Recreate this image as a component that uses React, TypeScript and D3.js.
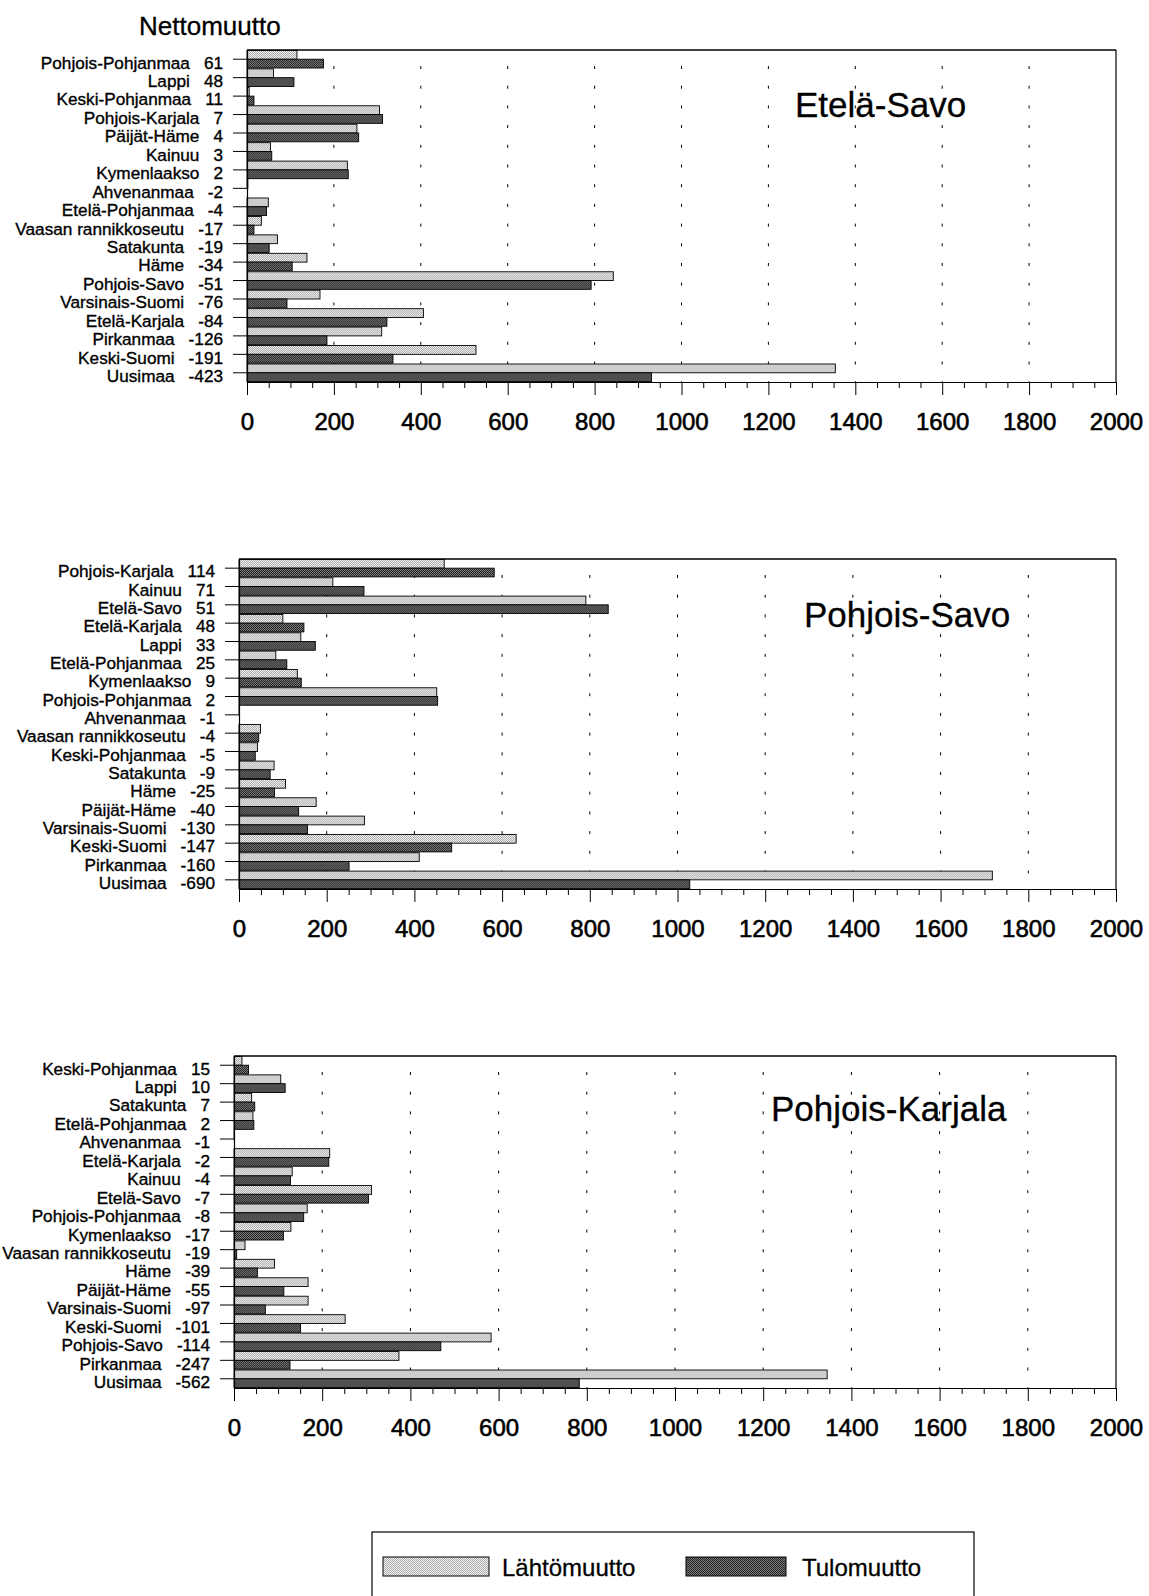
import { useEffect, useRef } from "react";
import * as d3 from "d3";

// Etelä-Savo
const esRegions = ["Pohjois-Pohjanmaa", "Lappi", "Keski-Pohjanmaa", "Pohjois-Karjala", "Päijät-Häme", "Kainuu", "Kymenlaakso", "Ahvenanmaa", "Etelä-Pohjanmaa", "Vaasan rannikkoseutu", "Satakunta", "Häme", "Pohjois-Savo", "Varsinais-Suomi", "Etelä-Karjala", "Pirkanmaa", "Keski-Suomi", "Uusimaa"];
const esNet = [61, 48, 11, 7, 4, 3, 2, -2, -4, -17, -19, -34, -51, -76, -84, -126, -191, -423];
const esLahto = [115, 61, 5, 305, 253, 54, 231, 2, 49, 33, 70, 138, 843, 168, 406, 310, 527, 1354];
const esTulo = [176, 108, 16, 312, 257, 57, 233, 0, 45, 16, 51, 104, 792, 92, 322, 184, 336, 931];

// Pohjois-Savo
const psRegions = ["Pohjois-Karjala", "Kainuu", "Etelä-Savo", "Etelä-Karjala", "Lappi", "Etelä-Pohjanmaa", "Kymenlaakso", "Pohjois-Pohjanmaa", "Ahvenanmaa", "Vaasan rannikkoseutu", "Keski-Pohjanmaa", "Satakunta", "Häme", "Päijät-Häme", "Varsinais-Suomi", "Keski-Suomi", "Pirkanmaa", "Uusimaa"];
const psNet = [114, 71, 51, 48, 33, 25, 9, 2, -1, -4, -5, -9, -25, -40, -130, -147, -160, -690];
const psLahto = [468, 214, 791, 100, 141, 84, 133, 451, 1, 49, 42, 80, 106, 176, 286, 632, 411, 1718];
const psTulo = [582, 285, 842, 148, 174, 109, 142, 453, 0, 45, 37, 71, 81, 136, 156, 485, 251, 1028];

// Pohjois-Karjala
const pkRegions = ["Keski-Pohjanmaa", "Lappi", "Satakunta", "Etelä-Pohjanmaa", "Ahvenanmaa", "Etelä-Karjala", "Kainuu", "Etelä-Savo", "Pohjois-Pohjanmaa", "Kymenlaakso", "Vaasan rannikkoseutu", "Häme", "Päijät-Häme", "Varsinais-Suomi", "Keski-Suomi", "Pohjois-Savo", "Pirkanmaa", "Uusimaa"];
const pkNet = [15, 10, 7, 2, -1, -2, -4, -7, -8, -17, -19, -39, -55, -97, -101, -114, -247, -562];
const pkLahto = [18, 106, 40, 43, 1, 217, 132, 312, 166, 129, 25, 92, 168, 168, 252, 583, 374, 1345];
const pkTulo = [33, 116, 47, 45, 0, 215, 128, 305, 158, 112, 6, 53, 113, 71, 151, 469, 127, 783];

const xTicks = [0, 200, 400, 600, 800, 1000, 1200, 1400, 1600, 1800, 2000];
const seriesNames = ["Lähtömuutto", "Tulomuutto"];
const chartTitle = "Nettomuutto";

const FONT = "'Liberation Sans', Arial, Helvetica, sans-serif";

const panels = [
  { title: "Etelä-Savo", regions: esRegions, net: esNet, lahto: esLahto, tulo: esTulo, left: 247, top: 50, bottom: 382, titleX: 795, titleY: 117 },
  { title: "Pohjois-Savo", regions: psRegions, net: psNet, lahto: psLahto, tulo: psTulo, left: 239, top: 559, bottom: 889, titleX: 804, titleY: 627 },
  { title: "Pohjois-Karjala", regions: pkRegions, net: pkNet, lahto: pkLahto, tulo: pkTulo, left: 234, top: 1056, bottom: 1388, titleX: 771, titleY: 1121 },
];

function App() {
  const ref = useRef<SVGSVGElement>(null);

  useEffect(() => {
    const svg = d3.select(ref.current);
    svg.selectAll("*").remove();

    const defs = svg.append("defs");
    const makePattern = (id: string, bg: string, fg: string) => {
      const p = defs.append("pattern").attr("id", id).attr("patternUnits", "userSpaceOnUse").attr("width", 2).attr("height", 2);
      p.append("rect").attr("width", 2).attr("height", 2).attr("fill", bg);
      p.append("rect").attr("width", 1).attr("height", 1).attr("fill", fg);
      p.append("rect").attr("x", 1).attr("y", 1).attr("width", 1).attr("height", 1).attr("fill", fg);
    };
    makePattern("pat-light", "#f2f2f2", "#aaaaaa");
    makePattern("pat-dark", "#787878", "#262626");
    const fills = ["url(#pat-light)", "url(#pat-dark)"];

    svg.append("text")
      .attr("x", 139).attr("y", 35)
      .attr("font-family", FONT).attr("font-size", 26)
      .attr("stroke", "#000").attr("stroke-width", 0.3)
      .text(chartTitle);

    panels.forEach((p) => {
      const right = 1116;
      const x = d3.scaleLinear().domain([0, 2000]).range([p.left, right]);
      const y = d3.scaleBand().domain(p.regions).range([p.top, p.bottom]);
      const sub = d3.scaleBand().domain(seriesNames).range([0, y.bandwidth()]).paddingOuter(0.05);
      const g = svg.append("g");

      // dotted gridlines
      g.selectAll(".grid")
        .data(xTicks.slice(1, -1))
        .join("line")
        .attr("x1", (d) => x(d)).attr("x2", (d) => x(d))
        .attr("y1", p.top + 16).attr("y2", p.bottom)
        .attr("stroke", "#000").attr("stroke-width", 1)
        .attr("stroke-dasharray", "3 16.7");

      // bars
      const rows = p.regions.map((r, i) => ({ region: r, values: [p.lahto[i], p.tulo[i]] }));
      const rowG = g.selectAll(".row").data(rows).join("g")
        .attr("transform", (d) => `translate(0,${y(d.region)})`);
      rowG.selectAll("rect")
        .data((d) => d.values.map((v, k) => ({ v, k })))
        .join("rect")
        .attr("x", x(0))
        .attr("y", (d) => sub(seriesNames[d.k]) as number)
        .attr("width", (d) => x(d.v) - x(0))
        .attr("height", sub.bandwidth())
        .attr("fill", (d) => fills[d.k])
        .attr("stroke", "#000").attr("stroke-width", 0.9);

      // frame top and right
      g.append("line").attr("x1", p.left).attr("x2", right).attr("y1", p.top).attr("y2", p.top)
        .attr("stroke", "#000").attr("stroke-width", 1.5);
      g.append("line").attr("x1", right).attr("x2", right).attr("y1", p.top).attr("y2", p.bottom)
        .attr("stroke", "#000").attr("stroke-width", 1.2);

      // minor ticks
      const minor = d3.range(0, 2001, 50).filter((v) => v % 200 !== 0);
      g.append("g")
        .attr("transform", `translate(0,${p.bottom})`)
        .call(d3.axisBottom(x).tickValues(minor).tickSize(6).tickSizeOuter(0).tickFormat(() => ""))
        .call((a) => a.select(".domain").remove())
        .selectAll("line").attr("stroke", "#000");

      // x axis
      const xa = g.append("g")
        .attr("transform", `translate(0,${p.bottom})`)
        .call(d3.axisBottom(x).tickValues(xTicks).tickSize(13).tickSizeOuter(0).tickPadding(18).tickFormat(d3.format("d")));
      xa.attr("font-family", FONT).attr("font-size", 24);
      xa.selectAll("line").attr("stroke", "#000");
      xa.select(".domain").attr("stroke", "#000").attr("stroke-width", 1.2);
      xa.selectAll("text").attr("fill", "#000").attr("stroke", "#000").attr("stroke-width", 0.6);

      // y axis with name + net value labels
      const ya = g.append("g")
        .attr("transform", `translate(${p.left},0)`)
        .call(d3.axisLeft(y).tickSize(14).tickSizeOuter(0).tickPadding(10));
      ya.attr("font-family", FONT).attr("font-size", 17.2);
      ya.selectAll("line").attr("stroke", "#000");
      ya.select(".domain").attr("stroke", "#000").attr("stroke-width", 1.2);
      ya.selectAll<SVGTextElement, string>(".tick text").each(function (d) {
        const t = d3.select(this);
        const i = p.regions.indexOf(d);
        t.text(null).attr("dy", "0.54em").attr("fill", "#000")
          .attr("stroke", "#000").attr("stroke-width", 0.35);
        t.append("tspan").text(d);
        t.append("tspan").attr("dx", 14).text(String(p.net[i]));
      });

      // panel title
      g.append("text")
        .attr("x", p.titleX).attr("y", p.titleY)
        .attr("font-family", FONT).attr("font-size", 35)
        .attr("stroke", "#000").attr("stroke-width", 0.3)
        .text(p.title);
    });

    // legend
    const lg = svg.append("g");
    lg.append("rect").attr("x", 372).attr("y", 1532).attr("width", 602).attr("height", 90)
      .attr("fill", "none").attr("stroke", "#000").attr("stroke-width", 1.2);
    const legendX = d3.scalePoint().domain(seriesNames).range([383, 686]);
    seriesNames.forEach((s, k) => {
      const lx = legendX(s) as number;
      lg.append("rect").attr("x", lx).attr("y", 1557).attr("width", k === 0 ? 106 : 100).attr("height", 19)
        .attr("fill", fills[k]).attr("stroke", "#000").attr("stroke-width", 1);
      lg.append("text").attr("x", lx + (k === 0 ? 119 : 116)).attr("y", 1576)
        .attr("font-family", FONT).attr("font-size", 24)
        .attr("stroke", "#000").attr("stroke-width", 0.3)
        .text(s);
    });
  }, []);

  return (
    <svg
      ref={ref}
      width={1149}
      height={1596}
      style={{ position: "absolute", left: 0, top: 0, background: "#fff" }}
    ></svg>
  );
}

export default App;
